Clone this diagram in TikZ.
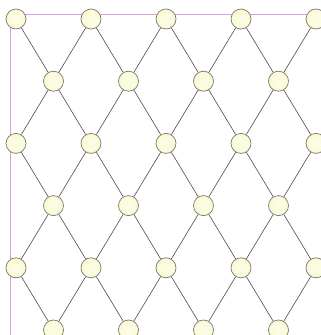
\documentclass[tikz,border=0pt]{standalone}
\usepackage{xcolor}
\usepackage{tikz}
\usetikzlibrary{arrows.meta,positioning,calc}

\definecolor{ballfill}{RGB}{250,250,214}
\definecolor{ballrim}{RGB}{120,120,110}
\definecolor{framepink}{RGB}{215,160,220}

\begin{document}
\begin{tikzpicture}[
  x=1pt, y=-1pt,
  ball/.style={circle, draw=ballrim, line width=0.7pt, minimum size=20pt, inner sep=0pt,
    inner color=ballfill!55, outer color=ballfill},
  rod/.style={draw=black!70, line width=0.6pt}
]
\useasboundingbox (0,0) rectangle (321,335);
\clip (0,0) rectangle (321,335);
\draw[framepink, line width=0.9pt] (321,14) -- (10,14) -- (10,335);
% even rows
\foreach \r in {0,2,4} {
  \foreach \k in {0,...,4} {
    \node[ball] (b-\r-\k) at (16+75*\k,19+62.2*\r) {};
  }
}
% odd rows
\foreach \r in {1,3,5} {
  \foreach \k in {0,...,3} {
    \node[ball] (b-\r-\k) at (53.5+75*\k,19+62.2*\r) {};
  }
}
% connectors
\foreach \r/\up in {1/0,3/2,5/4} {
  \foreach \k in {0,...,3} {
    \pgfmathtruncatemacro{\kk}{\k+1}
    \draw[rod] (b-\r-\k) -- (b-\up-\k);
    \draw[rod] (b-\r-\k) -- (b-\up-\kk);
  }
}
\foreach \r/\dn in {1/2,3/4} {
  \foreach \k in {0,...,3} {
    \pgfmathtruncatemacro{\kk}{\k+1}
    \draw[rod] (b-\r-\k) -- (b-\dn-\k);
    \draw[rod] (b-\r-\k) -- (b-\dn-\kk);
  }
}
\end{tikzpicture}
\end{document}
